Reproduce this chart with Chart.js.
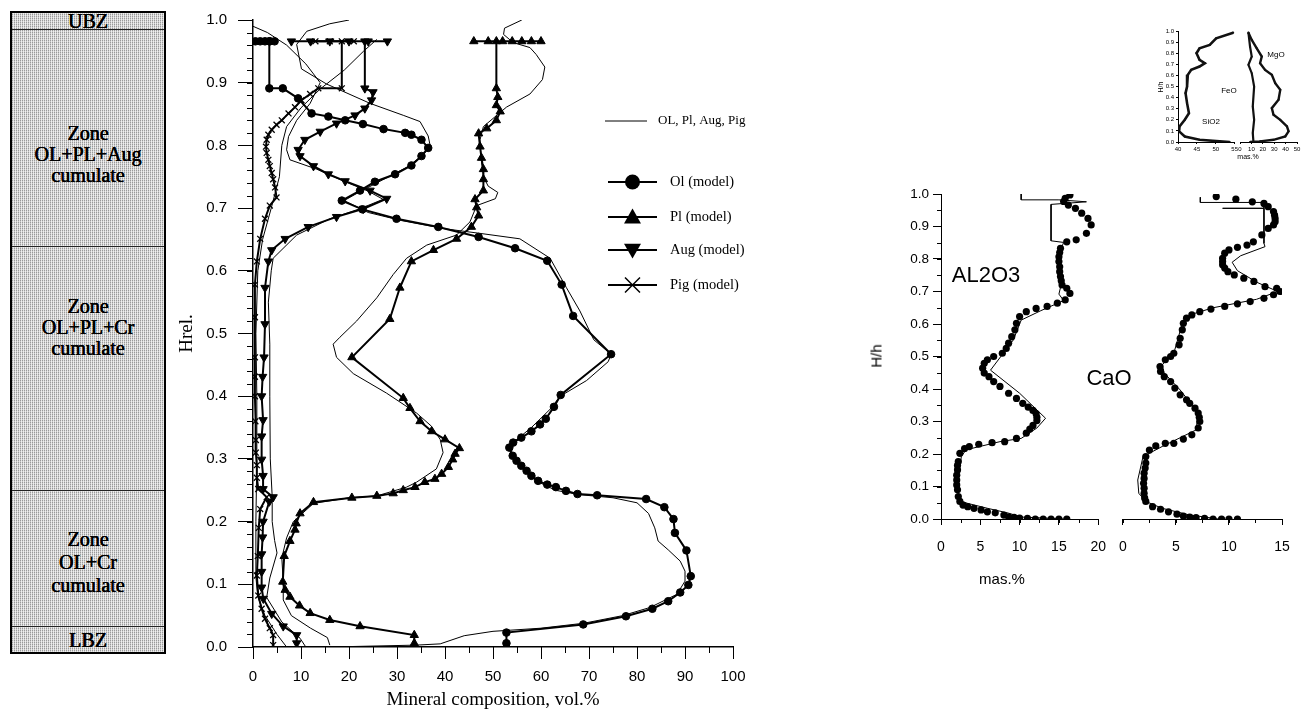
<!DOCTYPE html>
<html>
<head>
<meta charset="utf-8">
<title>Layered intrusion profiles</title>
<script src="https://cdn.jsdelivr.net/npm/chart.js@4.4.0/dist/chart.umd.min.js"></script>
<style>
  body { margin: 0; width: 1306px; height: 713px; background: #fff; position: relative; overflow: hidden; }
  canvas { position: absolute; }
  .lbl { position: absolute; transform: translate(-50%, -50%); white-space: nowrap; color: #000;
         font-family: "Liberation Sans", Arial, sans-serif; }
  .zones { position: absolute; left: 10px; top: 11px; width: 152px; height: 639px; border: 2px solid #000;
           background:
             repeating-linear-gradient(0deg, rgba(255,255,255,0.45) 0 1px, rgba(255,255,255,0) 1px 2px),
             repeating-linear-gradient(90deg, #9a9a9a 0 1px, #e2e2e2 1px 2px); }
  .zones .cut { position: absolute; left: 0; right: 0; height: 0; border-top: 1px solid #222; }
  .zones .txt { position: absolute; left: 0; right: 0; text-align: center; color: #000;
                font-family: "Liberation Serif", "Times New Roman", serif; font-size: 20px; line-height: 21px;
                text-shadow: 0 0 0.6px #000, 0.3px 0 0 #000; }
</style>
</head>
<body>

<div class="zones">
  <div class="cut" style="top:16px"></div>
  <div class="cut" style="top:233px"></div>
  <div class="cut" style="top:477px"></div>
  <div class="cut" style="top:613px"></div>
  <div class="txt" style="top:-2px">UBZ</div>
  <div class="txt" style="top:110px">Zone<br>OL+PL+Aug<br>cumulate</div>
  <div class="txt" style="top:283px">Zone<br>OL+PL+Cr<br>cumulate</div>
  <div class="txt" style="top:515px;line-height:23px">Zone<br>OL+Cr<br>cumulate</div>
  <div class="txt" style="top:617px">LBZ</div>
</div>

<canvas id="modes" width="590" height="713" style="left:170px;top:0"></canvas>
<canvas id="al2o3" width="260" height="430" style="left:860px;top:170px"></canvas>
<canvas id="cao" width="201" height="430" style="left:1105px;top:170px"></canvas>
<canvas id="sio2" width="100" height="140" style="left:1140px;top:20px"></canvas>
<canvas id="femg" width="70" height="140" style="left:1236px;top:20px"></canvas>

<div class="lbl" style="left:876px;top:356px;font-size:15px;transform:translate(-50%,-50%) rotate(-90deg)">H/h</div>
<div class="lbl" style="left:1002px;top:578px;font-size:15px">mas.%</div>
<div class="lbl" style="left:986px;top:275px;font-size:22px">AL2O3</div>
<div class="lbl" style="left:1109px;top:378px;font-size:22px">CaO</div>
<div class="lbl" style="left:1160px;top:87px;font-size:7px;transform:translate(-50%,-50%) rotate(-90deg)">H/h</div>
<div class="lbl" style="left:1211px;top:121px;font-size:8px">SiO2</div>
<div class="lbl" style="left:1229px;top:90px;font-size:8px">FeO</div>
<div class="lbl" style="left:1276px;top:54px;font-size:8px">MgO</div>
<div class="lbl" style="left:1248px;top:156px;font-size:7px">mas.%</div>

<script>
// modal composition, vol.% (h = relative height Hrel)
var olModelH = [0.006,0.023,0.036,0.049,0.061,0.073,0.087,0.099,0.113,0.154,0.182,0.204,0.223,0.236,0.242,0.244,0.249,0.255,0.259,0.265,0.273,0.281,0.289,0.297,0.305,0.318,0.326,0.334,0.344,0.355,0.364,0.383,0.402,0.467,0.528,0.578,0.616,0.636,0.654,0.670,0.683,0.698,0.712,0.728,0.742,0.754,0.768,0.783,0.796,0.809,0.817,0.820,0.826,0.834,0.840,0.846,0.851,0.875,0.891,0.891,0.966,0.966,0.966,0.966,0.966,0.966];
var olModelV = [52.8,52.8,68.8,77.7,83.2,86.5,89.0,90.7,91.2,90.3,87.9,87.6,85.7,81.9,71.7,67.6,65.2,63.1,61.3,59.4,58.0,57.0,55.9,54.9,54.1,53.4,54.2,55.9,58.0,59.8,61.0,62.7,64.1,74.6,66.7,64.3,61.3,54.6,47.0,38.6,29.9,22.8,18.5,22.3,25.4,29.6,33.0,35.1,36.5,35.1,33.0,31.7,27.2,22.9,19.2,15.7,12.2,9.4,6.2,3.4,3.4,0.5,1.5,2.5,3.5,4.5];

var plModelH = [0.006,0.019,0.033,0.043,0.054,0.066,0.080,0.091,0.104,0.145,0.169,0.187,0.197,0.213,0.231,0.238,0.241,0.245,0.250,0.255,0.263,0.268,0.276,0.287,0.299,0.308,0.317,0.331,0.344,0.360,0.381,0.397,0.462,0.523,0.573,0.615,0.633,0.651,0.670,0.688,0.701,0.714,0.728,0.746,0.762,0.780,0.798,0.819,0.827,0.840,0.854,0.864,0.877,0.891,0.966,0.966,0.966,0.966,0.966,0.966,0.966,0.966];
var plModelV = [33.6,33.6,22.3,16.0,11.9,9.7,7.7,6.7,6.2,6.5,7.7,8.75,9.0,9.8,12.6,20.6,25.8,29.2,31.3,33.75,35.8,37.9,39.3,40.7,41.6,42.1,43.0,40.0,37.2,34.8,32.7,31.3,20.6,28.5,30.6,33.0,37.6,42.4,45.5,47.0,46.6,46.25,48.0,48.0,48.0,47.6,47.3,47.0,48.7,50.7,51.5,50.7,51.0,50.7,50.7,46,49,52,54,56,58,60];

var augModelH = [0.006,0.019,0.033,0.053,0.077,0.095,0.12,0.148,0.175,0.200,0.232,0.239,0.252,0.273,0.299,0.336,0.362,0.400,0.431,0.462,0.515,0.573,0.615,0.633,0.651,0.670,0.686,0.699,0.715,0.728,0.743,0.754,0.767,0.783,0.793,0.809,0.822,0.835,0.848,0.859,0.872,0.885,0.891,0.966,0.966,0.966,0.966,0.966,0.966,0.966];
var augModelV = [9.1,9.1,6.3,3.9,2.15,1.8,1.8,1.8,2.0,2.1,3.4,4.2,2.1,2.1,1.8,1.8,2.1,1.8,2.0,2.3,2.5,2.5,3.2,3.9,6.7,11.5,17.4,23.0,27.85,24.4,19.2,15.7,12.6,9.8,9.4,10.8,14.0,17.4,21.25,23.3,24.7,25.0,23.3,23.3,8,12,16,20,24,28];

var pigModelH = [0.003,0.019,0.030,0.045,0.061,0.082,0.114,0.145,0.190,0.220,0.239,0.252,0.270,0.290,0.310,0.330,0.360,0.400,0.431,0.462,0.526,0.578,0.615,0.651,0.683,0.704,0.717,0.733,0.746,0.756,0.767,0.777,0.788,0.798,0.809,0.817,0.825,0.833,0.840,0.851,0.861,0.872,0.882,0.891,0.891,0.966,0.966,0.966,0.966];
var pigModelV = [4.2,4.2,3.5,2.5,1.8,1.1,0.8,1.0,1.2,1.5,2.85,1.1,0.8,0.8,0.6,0.6,0.5,0.4,0.4,0.4,0.4,0.4,0.8,1.5,2.5,3.5,4.9,4.6,4.2,3.9,3.5,3.2,2.85,2.7,2.85,3.2,3.9,4.9,6.0,7.4,8.75,10.1,11.9,13.6,18.5,18.5,13,16,21];

// measured profiles: OL, Pl, Aug, Pig
var olObsH = [0.000,0.003,0.005,0.018,0.025,0.030,0.038,0.050,0.063,0.084,0.105,0.121,0.137,0.155,0.169,0.190,0.213,0.230,0.238,0.243,0.250,0.265,0.285,0.305,0.325,0.350,0.380,0.400,0.425,0.455,0.467,0.490,0.536,0.573,0.620,0.651,0.660,0.667,0.680,0.693,0.712,0.725,0.745,0.765,0.785,0.800,0.815,0.838,0.848,0.867,0.898,0.922,0.961,0.982,0.994,1.000];
var olObsV = [16,34,39,44,50,60,69,77,82.7,88.3,90.0,90.0,89.0,86.5,84.4,83.7,82.4,80,75,68,63,59,56,53.5,54,58,62,64,69.5,74,74.6,71,68.1,65.3,61.9,55.6,47,40,31,24,19,22,27,32,35.5,36.9,36.5,34.8,31.3,24.4,15.3,10.1,9.1,11.2,16,20];

var plObsH = [0.003,0.015,0.030,0.050,0.075,0.105,0.142,0.174,0.200,0.229,0.238,0.241,0.255,0.263,0.284,0.310,0.331,0.352,0.373,0.405,0.436,0.462,0.483,0.494,0.520,0.557,0.594,0.620,0.641,0.657,0.678,0.704,0.715,0.725,0.735,0.750,0.780,0.809,0.830,0.861,0.882,0.905,0.925,0.945,0.956,0.964,0.977,0.987,1.000];
var plObsV = [16,15.5,12,8,6.3,6.3,6.0,7.0,8.4,12.6,20,25.8,32,34.1,38.2,39.6,39.0,37.2,34.1,27.8,20.9,17.4,16.7,18.1,21.6,25.8,29.2,32.0,36.2,42.4,45.2,46.6,50.5,51,49,48,47.5,47.3,48.0,52.8,57.7,60.3,60.8,59,57.7,54.2,52.2,52.4,56];

var augObsH = [0.000,0.014,0.040,0.079,0.110,0.150,0.170,0.200,0.240,0.300,0.400,0.483,0.550,0.600,0.620,0.657,0.683,0.699,0.714,0.727,0.741,0.762,0.777,0.793,0.814,0.840,0.867,0.900,0.930,0.960,0.980,0.990];
var augObsV = [11,9.8,6,2.85,3.5,5,4.5,4.0,4.0,3.6,3.5,3.5,3.2,3.8,4.2,9.1,16,22.3,27.1,24,19.5,13.3,7.7,7.0,7.4,9.1,11.9,14,11,7,3,0];

var pigObsH = [0.000,0.020,0.050,0.080,0.120,0.200,0.300,0.400,0.500,0.600,0.650,0.700,0.750,0.800,0.830,0.860,0.890,0.920,0.950,0.969];
var pigObsV = [7,5,2.5,1,0.5,0.6,0.8,0.8,0.6,1.0,2.0,3.8,5.5,6,7,10,14,19,23,25.8];

// bulk chemistry, mas.% (h = H/h): model points and measured line
var al2o3H = [0.0,0.0,0.0,0.0,0.0,0.002,0.003,0.005,0.007,0.012,0.019,0.022,0.028,0.033,0.038,0.043,0.054,0.069,0.09,0.105,0.12,0.135,0.151,0.165,0.177,0.202,0.217,0.223,0.23,0.235,0.238,0.248,0.264,0.277,0.288,0.303,0.313,0.324,0.334,0.344,0.356,0.371,0.387,0.408,0.423,0.438,0.449,0.464,0.479,0.49,0.5,0.51,0.525,0.541,0.561,0.582,0.602,0.623,0.638,0.648,0.654,0.664,0.674,0.694,0.71,0.72,0.733,0.746,0.761,0.776,0.792,0.807,0.82,0.833,0.853,0.859,0.879,0.905,0.925,0.941,0.956,0.966,0.977,0.987,0.997];
var al2o3V = [16.0,15.0,14.0,13.0,12.0,11.0,10.0,9.3,8.6,8.0,6.9,5.9,5.1,4.2,3.4,2.8,2.4,2.2,2.1,2.0,2.0,2.0,2.1,2.1,2.2,2.4,3.0,3.6,4.8,6.5,8.1,9.6,10.85,11.3,11.7,12.2,12.2,12.1,11.7,11.1,10.4,9.6,8.6,7.5,6.7,6.1,5.5,5.3,5.5,5.9,6.7,7.8,8.3,8.6,9.0,9.4,9.6,10.0,10.85,12.1,13.5,14.8,15.8,16.4,16.0,15.4,15.3,15.2,15.1,15.1,15.0,15.0,15.1,15.2,16.0,17.2,18.5,19.1,18.7,17.9,17.1,16.2,15.6,15.8,16.4];
var al2o3ObsH = [1.0,0.982,0.982,0.976,0.968,0.960,0.856,0.851,0.815,0.712,0.692,0.672,0.641,0.612,0.551,0.458,0.387,0.31,0.28,0.248,0.238,0.213,0.193,0.12,0.058,0.048,0.033,0.018,0.006,0.0];
var al2o3ObsV = [10.2,10.2,15,18.5,14,14,14,15.6,15,15.2,15,15.6,12.7,10.2,9.2,6.3,10,13.3,12.2,10.2,7.5,3.2,2.6,2.1,2.2,3.4,5.9,8.6,10.2,15.6];

var caoH = [0.0,0.0,0.0,0.0,0.002,0.004,0.006,0.009,0.015,0.022,0.03,0.038,0.054,0.065,0.079,0.095,0.11,0.125,0.141,0.157,0.172,0.192,0.212,0.225,0.233,0.233,0.246,0.259,0.28,0.3,0.313,0.326,0.341,0.356,0.367,0.382,0.403,0.423,0.438,0.454,0.469,0.49,0.5,0.51,0.536,0.556,0.582,0.602,0.618,0.628,0.638,0.646,0.654,0.662,0.669,0.679,0.69,0.7,0.71,0.715,0.731,0.741,0.751,0.761,0.772,0.782,0.792,0.802,0.818,0.828,0.836,0.843,0.853,0.874,0.894,0.905,0.915,0.925,0.935,0.946,0.961,0.971,0.976,0.984,0.992];
var caoV = [10.8,10.0,9.3,8.5,7.7,6.9,6.3,5.7,5.1,4.3,3.55,2.8,2.16,2.05,2.0,2.0,1.95,2.0,2.0,2.1,2.16,2.16,2.5,3.1,4.0,4.8,5.7,6.5,7.1,7.25,7.2,7.1,6.8,6.3,6.0,5.4,4.9,4.5,3.9,3.55,3.5,4.0,4.5,4.8,5.3,5.4,5.6,5.7,6.0,6.5,7.25,8.3,9.6,10.8,12.0,13.3,14.2,14.8,14.5,13.4,12.35,11.4,10.5,9.9,9.6,9.4,9.4,9.4,9.6,10.0,10.8,11.7,12.3,13.1,13.7,14.2,14.35,14.35,14.3,14.2,13.7,13.3,12.2,10.65,8.8];
var caoObsH = [0.99,0.974,0.974,0.956,0.956,0.956,0.848,0.838,0.81,0.79,0.764,0.728,0.7,0.676,0.65,0.63,0.602,0.51,0.474,0.449,0.397,0.326,0.274,0.223,0.192,0.12,0.079,0.054,0.033,0.013,0.0];
var caoObsV = [7.3,7.3,13.3,13.3,9.4,13.3,13.3,13.4,11.1,10.3,10.8,12.65,14.6,12.6,8.5,6.5,5.6,4.8,3.7,3.9,5.4,7.1,6.9,3.7,1.9,1.4,1.5,2.16,3.7,6.2,9.0];

// small profiles of SiO2, FeO, MgO
var sio2H = [0.985,0.934,0.874,0.844,0.8,0.74,0.71,0.68,0.65,0.605,0.5,0.44,0.35,0.26,0.2,0.14,0.096,0.05,0.02,0.006,0.0];
var sio2V = [54.6,50.1,48.4,45.7,44.9,45.7,47.1,45.7,43.5,42.6,42.4,42.0,42.4,42.9,41.8,40.4,40.3,41.8,45.7,51.0,53.7];
var feoH = [0.985,0.86,0.77,0.695,0.62,0.5,0.32,0.2,0.08,0.0];
var feoV = [7.4,8.8,10.3,7.4,10.3,12.4,11.2,12.4,11.2,11.8];
var mgoH = [0.985,0.92,0.844,0.77,0.71,0.65,0.605,0.53,0.47,0.38,0.305,0.245,0.2,0.14,0.096,0.05,0.02,0.006,0.0];
var mgoV = [7.4,10.3,14.7,19.1,17.6,22.0,27.9,30.9,35.3,33.8,27.9,29.4,35.3,41.2,42.6,39.7,29.4,17.6,8.8];

var hrelTicks = { min: 0, max: 1, step: 0.1 };
var modeTicks = { min: 0, max: 100, step: 10 };

function pts(h, v) {
  return h.map(function (y, i) { return { x: v[i], y: y }; });
}

var SANS = '"Liberation Sans", Arial, sans-serif';
var SERIF = '"Liberation Serif", "Times New Roman", serif';

// short ticks between the labelled ones
var minorTicks = {
  id: 'minorTicks',
  afterDraw: function (chart, args, o) {
    var ctx = chart.ctx;
    ctx.save();
    ctx.strokeStyle = '#000';
    ctx.lineWidth = 1;
    if (o.x) {
      var sx = chart.scales.x;
      for (var v = sx.min; v <= sx.max + 1e-9; v += o.x.step) {
        var px = Math.round(sx.getPixelForValue(v)) + 0.5;
        ctx.beginPath(); ctx.moveTo(px, sx.top); ctx.lineTo(px, sx.top + o.x.len); ctx.stroke();
      }
    }
    if (o.y) {
      var sy = chart.scales.y;
      for (var w = sy.min; w <= sy.max + 1e-9; w += o.y.step) {
        var py = Math.round(sy.getPixelForValue(w)) + 0.5;
        ctx.beginPath(); ctx.moveTo(chart.chartArea.left - o.y.len, py); ctx.lineTo(chart.chartArea.left, py); ctx.stroke();
      }
    }
    ctx.restore();
  }
};

// key at the right of the modal plot
var modelKey = {
  id: 'modelKey',
  afterDraw: function (chart, args, o) {
    var ctx = chart.ctx;
    ctx.save();
    ctx.strokeStyle = '#000';
    ctx.fillStyle = '#000';
    ctx.textBaseline = 'middle';
    o.items.forEach(function (it) {
      ctx.lineWidth = it.marker ? 2 : 1;
      ctx.beginPath(); ctx.moveTo(it.x0, it.y); ctx.lineTo(it.x1, it.y); ctx.stroke();
      var cx = (it.x0 + it.x1) / 2, r = it.r;
      ctx.beginPath();
      if (it.marker === 'circle') {
        ctx.arc(cx, it.y, r, 0, Math.PI * 2); ctx.fill();
      } else if (it.marker === 'up') {
        ctx.moveTo(cx, it.y - r); ctx.lineTo(cx + r, it.y + r * 0.75); ctx.lineTo(cx - r, it.y + r * 0.75); ctx.closePath(); ctx.fill();
      } else if (it.marker === 'down') {
        ctx.moveTo(cx, it.y + r); ctx.lineTo(cx + r, it.y - r * 0.75); ctx.lineTo(cx - r, it.y - r * 0.75); ctx.closePath(); ctx.fill();
      } else if (it.marker === 'cross') {
        ctx.lineWidth = 1.5;
        ctx.moveTo(cx - r, it.y - r); ctx.lineTo(cx + r, it.y + r);
        ctx.moveTo(cx + r, it.y - r); ctx.lineTo(cx - r, it.y + r); ctx.stroke();
      }
      ctx.font = it.font;
      ctx.fillText(it.text, it.tx, it.y);
    });
    ctx.restore();
  }
};

function axis(min, max, step, o) {
  return {
    type: 'linear', min: min, max: max,
    display: o.display !== false,
    position: o.position,
    border: { display: true, color: '#000', width: o.bw || 1 },
    grid: { drawOnChartArea: false, drawTicks: true, tickLength: o.tick, color: '#000', lineWidth: 1 },
    ticks: {
      stepSize: step, padding: o.pad, color: '#000', autoSkip: false, maxRotation: 0,
      font: { family: SANS, size: o.fs },
      callback: o.fmt || function (v) { return v; }
    },
    title: o.title || { display: false },
    afterFit: function (s) { if (o.position === 'bottom') s.height = o.size; else s.width = o.size; }
  };
}

function modelSet(h, v, style, r, rot) {
  return {
    data: pts(h, v), showLine: true, borderColor: '#000', borderWidth: 2,
    pointStyle: style, pointRadius: r, pointRotation: rot || 0,
    pointBackgroundColor: '#000', pointBorderColor: '#000', pointBorderWidth: style === 'crossRot' ? 1.3 : 1
  };
}

function lineSet(h, v, w) {
  return { data: pts(h, v), showLine: true, borderColor: '#000', borderWidth: w || 1, pointRadius: 0 };
}

function dotSet(h, v, r) {
  return { data: pts(h, v), showLine: false, pointStyle: 'circle', pointRadius: r,
           pointBackgroundColor: '#000', pointBorderColor: '#000', pointBorderWidth: 0 };
}

var base = { responsive: false, animation: false, devicePixelRatio: 1, events: [] };

function opts(extra) {
  var o = Object.assign({}, base, extra);
  o.plugins = Object.assign({ legend: { display: false }, tooltip: { enabled: false } }, extra.plugins || {});
  return o;
}

var hFmt = function (v) { return v.toFixed(1); };

// modal composition against height
new Chart(document.getElementById('modes'), {
  type: 'scatter',
  data: {
    datasets: [
      modelSet(olModelH, olModelV, 'circle', 3.8),
      modelSet(plModelH, plModelV, 'triangle', 4.8),
      modelSet(augModelH, augModelV, 'triangle', 4.8, 180),
      modelSet(pigModelH, pigModelV, 'crossRot', 4.2),
      lineSet(olObsH, olObsV), lineSet(plObsH, plObsV),
      lineSet(augObsH, augObsV), lineSet(pigObsH, pigObsV)
    ]
  },
  options: opts({
    layout: { padding: { top: 12, right: 27, bottom: 0, left: 0 } },
    scales: {
      x: axis(modeTicks.min, modeTicks.max, modeTicks.step, {
        position: 'bottom', tick: 12, pad: 9, fs: 15, size: 66, bw: 1.5,
        title: { display: true, text: 'Mineral composition, vol.%', color: '#000',
                 font: { family: SERIF, size: 19 }, padding: { top: 0, bottom: 2 } }
      }),
      y: axis(hrelTicks.min, hrelTicks.max, hrelTicks.step, {
        position: 'left', tick: 15, pad: 11, fs: 15, size: 83, bw: 1.5, fmt: hFmt,
        title: { display: true, text: 'Hrel.', color: '#000',
                 font: { family: SERIF, size: 19 }, padding: { top: 6, bottom: 0 } }
      })
    },
    plugins: {
      minorTicks: { x: { step: 5, len: 6 }, y: { step: 0.02, len: 6 } },
      modelKey: { items: [
        { x0: 435, x1: 477, y: 121, tx: 488, text: 'OL, Pl, Aug, Pig', font: '13px ' + SERIF },
        { x0: 438, x1: 487, y: 182, tx: 500, text: 'Ol (model)', marker: 'circle', r: 7.5, font: '14.5px ' + SERIF },
        { x0: 438, x1: 487, y: 217, tx: 500, text: 'Pl (model)', marker: 'up', r: 8.5, font: '14.5px ' + SERIF },
        { x0: 438, x1: 487, y: 250, tx: 500, text: 'Aug (model)', marker: 'down', r: 8.5, font: '14.5px ' + SERIF },
        { x0: 438, x1: 487, y: 285, tx: 500, text: 'Pig (model)', marker: 'cross', r: 7.5, font: '14.5px ' + SERIF }
      ] }
    }
  }),
  plugins: [minorTicks, modelKey]
});

// Al2O3 profile
new Chart(document.getElementById('al2o3'), {
  type: 'scatter',
  data: { datasets: [dotSet(al2o3H, al2o3V, 3.6), lineSet(al2o3ObsH, al2o3ObsV)] },
  options: opts({
    layout: { padding: { top: 24, right: 18, bottom: 0, left: 0 } },
    scales: {
      x: axis(0, 20, 5, { position: 'bottom', tick: 6, pad: 14, fs: 14, size: 81 }),
      y: axis(0, 1, 0.1, { position: 'left', tick: 8, pad: 4, fs: 13.5, size: 81, fmt: hFmt })
    },
    plugins: { minorTicks: { x: { step: 2.5, len: 4 }, y: { step: 0.05, len: 4 } } }
  }),
  plugins: [minorTicks]
});

// CaO profile, shares the height axis on its left
new Chart(document.getElementById('cao'), {
  type: 'scatter',
  data: { datasets: [dotSet(caoH, caoV, 3.6), lineSet(caoObsH, caoObsV)] },
  options: opts({
    layout: { padding: { top: 24, right: 24, bottom: 0, left: 15 } },
    scales: {
      x: axis(0, 15, 5, { position: 'bottom', tick: 6, pad: 14, fs: 14, size: 81 }),
      y: axis(0, 1, 0.1, { position: 'left', display: false, tick: 0, pad: 0, fs: 10, size: 0 })
    },
    plugins: { minorTicks: { x: { step: 2.5, len: 4 } } }
  }),
  plugins: [minorTicks]
});

// small SiO2 panel
new Chart(document.getElementById('sio2'), {
  type: 'scatter',
  data: { datasets: [
    { data: pts(sio2H, sio2V), showLine: true, borderColor: '#111', borderWidth: 2.6,
      pointRadius: 1.1, pointBackgroundColor: '#111', pointBorderWidth: 0 }
  ] },
  options: opts({
    layout: { padding: { top: 11, right: 5, bottom: 0, left: 0 } },
    scales: {
      x: axis(40, 55, 5, { position: 'bottom', tick: 2, pad: 2, fs: 6, size: 18 }),
      y: axis(0, 1, 0.1, { position: 'left', tick: 2, pad: 2, fs: 6, size: 38, fmt: hFmt })
    }
  })
});

// small FeO / MgO panel
new Chart(document.getElementById('femg'), {
  type: 'scatter',
  data: { datasets: [
    { data: pts(feoH, feoV), showLine: true, borderColor: '#111', borderWidth: 2.2,
      pointRadius: 0.9, pointBackgroundColor: '#111', pointBorderWidth: 0 },
    { data: pts(mgoH, mgoV), showLine: true, borderColor: '#111', borderWidth: 2.4,
      pointRadius: 1.1, pointBackgroundColor: '#111', pointBorderWidth: 0 }
  ] },
  options: opts({
    layout: { padding: { top: 11, right: 9, bottom: 0, left: 4 } },
    scales: {
      x: axis(0, 50, 10, { position: 'bottom', tick: 2, pad: 2, fs: 6, size: 18 }),
      y: axis(0, 1, 0.1, { position: 'left', display: false, tick: 0, pad: 0, fs: 6, size: 0 })
    }
  })
});
</script>
</body>
</html>
